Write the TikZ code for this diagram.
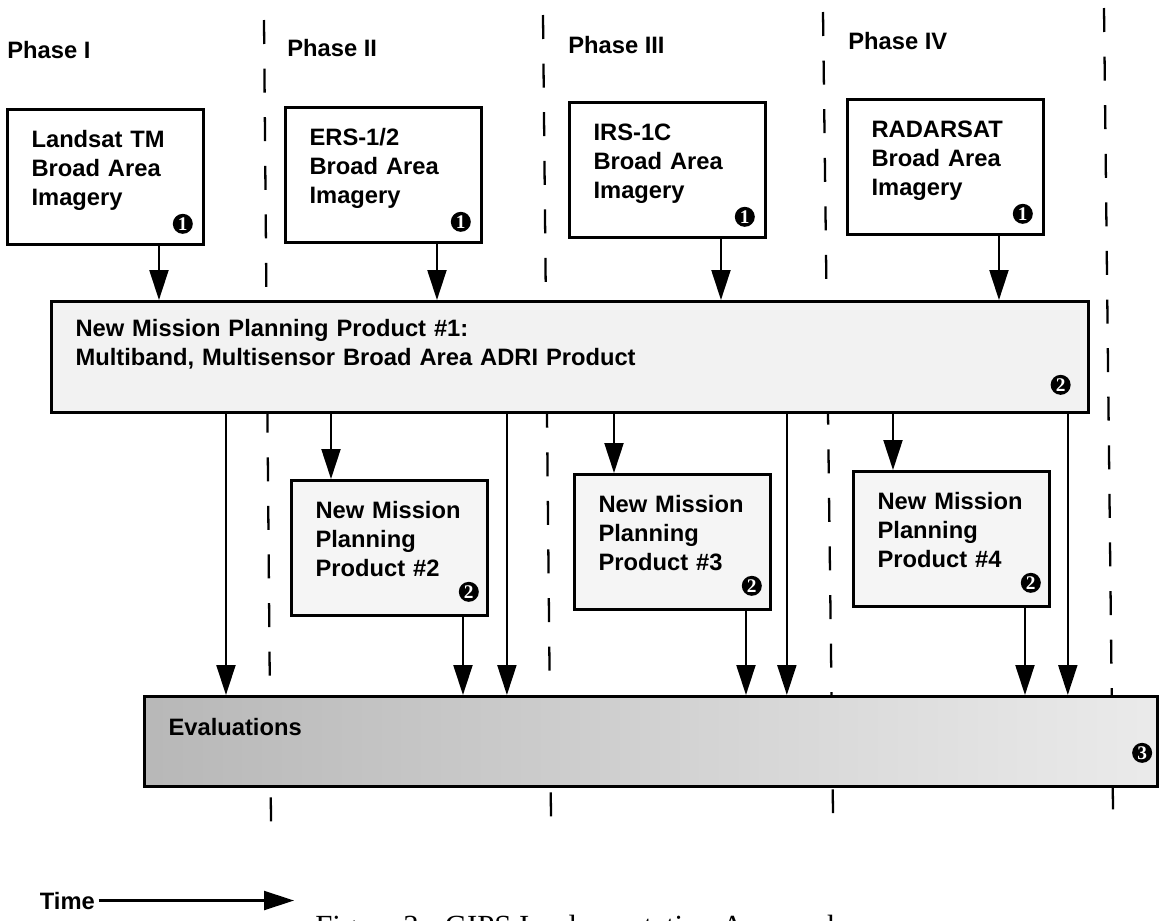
\documentclass[tikz,border=0pt]{standalone}
\usepackage{fontspec}
\setmainfont{Liberation Sans}
\newfontfamily\capfont{Liberation Serif}
\usetikzlibrary{arrows.meta, positioning}

\begin{document}
\begin{tikzpicture}[x=0.02cm, y=-0.02cm,
    font=\fontsize{13.5}{16.5}\selectfont\bfseries,
    box/.style={draw, line width=1.8pt, anchor=north west, align=left, inner xsep=0.48cm, inner ysep=0pt},
    imgbox/.style={box, fill=white, text width=2.96cm, text height=0.75cm, text depth=1.95cm},
    prodbox/.style={imgbox, fill=black!4},
    phaselabel/.style={anchor=base west, inner sep=0pt},
    arr/.style={-{Triangle[length=0.6cm, width=0.38cm]}, line width=1.2pt},
    divider/.style={line width=1.3pt, dash pattern=on 0.48cm off 0.492cm},
    badge/.style={circle, fill=black, text=white, inner sep=0pt, minimum size=0.4cm,
                  font=\capfont\bfseries\fontsize{11}{11}\selectfont}]

    \useasboundingbox (0,0) rectangle (1159,920);

    % Phase dividers
    \draw[divider] (264,20) -- (271,822);
    \draw[divider] (543,15) -- (551,818);
    \draw[divider] (823,12) -- (833,813);
    \draw[divider] (1104,8) -- (1113,810);

    % Phase labels
    \node[phaselabel] (ph1) at (7,58) {Phase I};
    \node[phaselabel] (ph2) at (287,56) {Phase II};
    \node[phaselabel] (ph3) at (568,53) {Phase III};
    \node[phaselabel] (ph4) at (848,49) {Phase IV};

    % Broad area imagery
    \node[imgbox] (landsat) at (6,108) {Landsat TM\\Broad Area\\Imagery};
    \node[imgbox] (ers) at (284,106) {ERS-1/2\\Broad Area\\Imagery};
    \node[imgbox] (irs) at (568,101) {IRS-1C\\Broad Area\\Imagery};
    \node[imgbox] (radarsat) at (846,98) {RADARSAT\\Broad Area\\Imagery};

    % Product #1
    \node[box, fill=black!5, text width=19.78cm, text height=0.7cm, text depth=1.52cm] (npp1) at (50,300)
        {New Mission Planning Product \#1:\\Multiband, Multisensor Broad Area ADRI Product};

    % Products #2 to #4
    \node[prodbox] (npp2) at (290,479) {New Mission\\Planning\\Product \#2};
    \node[prodbox] (npp3) at (573,473) {New Mission\\Planning\\Product \#3};
    \node[prodbox] (npp4) at (852,470) {New Mission\\Planning\\Product \#4};

    % Evaluations
    \node[box, left color=black!28, right color=black!8, text width=19.31cm, text height=0.78cm, text depth=1.02cm]
        (eval) at (143,695) {Evaluations};

    % Badges
    \foreach \b in {landsat, ers, irs, radarsat}
        \node[badge, above left=0.3cm and 0.3cm of \b.south east] (one-\b) {1};
    \node[badge, above left=0.44cm and 0.44cm of npp1.south east] (two-npp1) {2};
    \foreach \p in {npp2, npp3, npp4}
        \node[badge, above left=0.36cm and 0.26cm of \p.south east] (two-\p) {2};
    \node[badge, above left=0.56cm and 0.2cm of eval.south east] (three) {3};

    % Imagery into product #1
    \foreach \src in {landsat, ers, irs, radarsat} {
        \coordinate (\src-out) at ([xshift=3.06cm]\src.south west);
        \draw[arr] (\src-out) -- (\src-out |- npp1.north);
    }

    % Product #1 into the later products, and on to evaluations
    \foreach \p in {npp2, npp3, npp4} {
        \coordinate (\p-in) at ([xshift=0.82cm]\p.north west);
        \draw[arr] (\p-in |- npp1.south) -- (\p-in);
        \coordinate (\p-out) at ([xshift=3.46cm]\p.south west);
        \draw[arr] (\p-out) -- (\p-out |- eval.north);
    }
    \foreach \dx [count=\i] in {3.52, 9.14, 14.74, 20.36} {
        \coordinate (skip\i) at ([xshift=\dx cm]npp1.south west);
        \draw[arr] (skip\i) -- (skip\i |- eval.north);
    }

    % Time axis
    \node[anchor=base west, inner sep=2pt] (time) at (36,909) {Time};
    \coordinate (time-end) at (294,895);
    \draw[arr] (time.east) -- (time.east -| time-end);

    % Caption (cut by the page edge, as in the scan)
    \node[anchor=base west, inner sep=0pt, font=\capfont\mdseries\fontsize{17.5}{20}\selectfont] (caption)
        at (315,936) {Figure 3.\hspace{0.6em}GIPS Implementation Approach};

\end{tikzpicture}
\end{document}
